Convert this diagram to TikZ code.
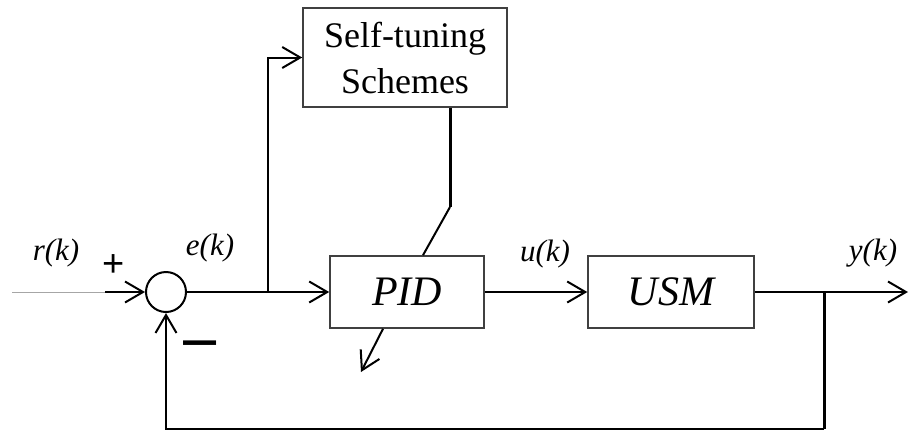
\documentclass[tikz,border=0pt]{standalone}
\usepackage{fontspec}
\setmainfont{Liberation Serif}
\newfontfamily\sansf{Liberation Sans}
\usetikzlibrary{arrows.meta,calc}
\begin{document}
\begin{tikzpicture}[x=1pt,y=-1pt,
  ln/.style={line width=2pt,draw=black},
  thk/.style={line width=3pt,draw=black},
  arr/.style={-{Straight Barb[length=18pt,width=21pt,line width=2pt]}},
  blk/.style={draw=black!75,line width=1.6pt,inner sep=0pt,fill=white},
  lbl/.style={font=\fontsize{31}{34}\selectfont\itshape,inner sep=0pt}]
\useasboundingbox (0,0) rectangle (910,432);
% blocks
\node[draw=black,line width=2pt,circle,minimum size=40pt,inner sep=0pt] (sum) at (166,292) {};
\node[blk,minimum width=154pt,minimum height=72pt] (pid) at (407,292)
  {\fontsize{42}{46}\selectfont\itshape PID};
\node[blk,minimum width=166pt,minimum height=72pt] (usm) at (671,292)
  {\fontsize{42}{46}\selectfont\itshape USM};
\node[blk,minimum width=204pt,minimum height=99pt,align=center,
  font=\fontsize{36}{46}\selectfont] (st) at (405,57.5) {Self-tuning\\Schemes};
% coordinates
\coordinate (in0) at (12,292);
\coordinate (in1) at (105,292);
\coordinate (br) at (268,292);
\coordinate (k1) at (450,207);
\coordinate (d1) at ($(pid.north)+(16,0)$);
\coordinate (d2) at ($(pid.south)+(-24,0)$);
\coordinate (d3) at (361,372);
\coordinate (out) at (908,292);
\coordinate (fb) at (824,292);
\coordinate (fbc) at (824,429);
% connectors
\draw[line width=0.8pt,draw=black!35] (in0) -- (in1);
\draw[ln,arr] (in1) -- (sum.west);
\draw[ln,arr] (sum.east) -- (pid.west);
\draw[ln,arr] (br) |- (st.west);
\draw[thk] (st.south -| k1) -- (k1);
\draw[ln] (k1) -- (d1);
\draw[ln,arr] (d2) -- (d3);
\draw[ln,arr] (pid.east) -- (usm.west);
\draw[ln,arr] (usm.east) -- (out);
\draw[thk] (fb) -- (fbc);
\draw[ln,line width=2.5pt] (fbc) -| ($(sum.south)+(0,18)$);
\draw[ln,arr] ($(sum.south)+(0,19)$) -- (sum.south);
% labels
\node[lbl] (lr) at (56,253) {r(k)};
\node[lbl] (le) at (210,248) {e(k)};
\node[lbl] (lu) at (545,254) {u(k)};
\node[lbl] (ly) at (873,253) {y(k)};
\node[font=\fontsize{38}{40}\selectfont\sansf,inner sep=0pt] (plus) at (114,266) {+};
\node[font=\fontsize{46}{48}\selectfont\sansf\bfseries,inner sep=0pt] (minus) at (200,348) {\scalebox{1.45}[1]{–}};
\end{tikzpicture}
\end{document}
